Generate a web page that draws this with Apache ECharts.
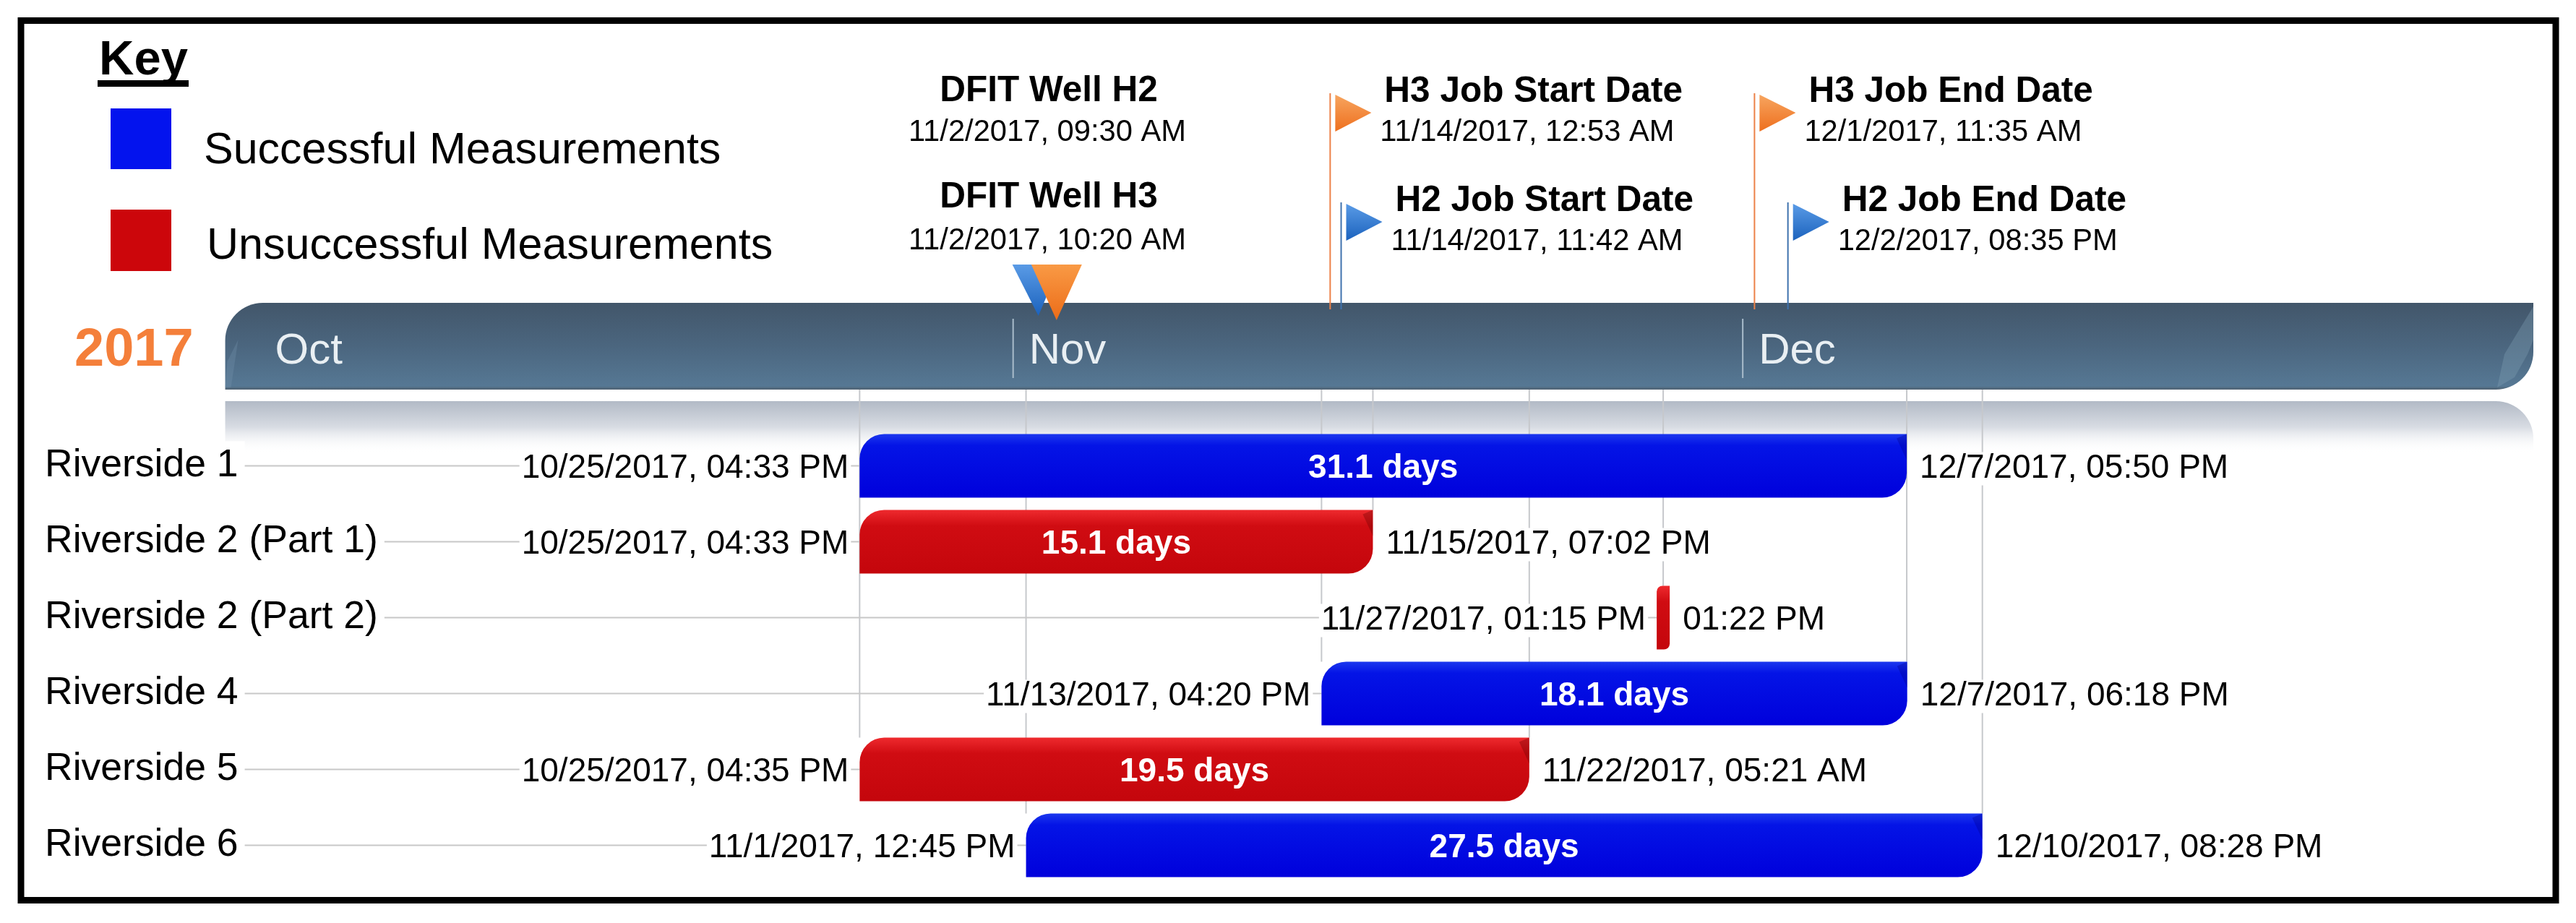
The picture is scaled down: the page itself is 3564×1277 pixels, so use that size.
<!DOCTYPE html>
<html>
<head>
<meta charset="utf-8">
<title>Riverside timeline</title>
<style>
	html, body { margin: 0; padding: 0; background: #fff; }
	#main { width: 3564px; height: 1277px; }
</style>
<script src="https://cdn.jsdelivr.net/npm/echarts@6/dist/echarts.min.js"></script>
</head>
<body>
<div id="main"></div>
<script>
var rowNames = ['Riverside 1', 'Riverside 2 (Part 1)', 'Riverside 2 (Part 2)', 'Riverside 4', 'Riverside 5', 'Riverside 6'];
var barStarts = ['2017-10-25T16:33', '2017-10-25T16:33', '2017-11-27T13:15', '2017-11-13T16:20', '2017-10-25T16:35', '2017-11-01T12:45'];
var barEnds = ['2017-12-07T17:50', '2017-11-15T19:02', '2017-11-27T13:22', '2017-12-07T18:18', '2017-11-22T05:21', '2017-12-10T20:28'];
var startLabels = ['10/25/2017, 04:33 PM', '10/25/2017, 04:33 PM', '11/27/2017, 01:15 PM', '11/13/2017, 04:20 PM', '10/25/2017, 04:35 PM', '11/1/2017, 12:45 PM'];
var endLabels = ['12/7/2017, 05:50 PM', '11/15/2017, 07:02 PM', '01:22 PM', '12/7/2017, 06:18 PM', '11/22/2017, 05:21 AM', '12/10/2017, 08:28 PM'];
var durations = ['31.1 days', '15.1 days', '', '18.1 days', '19.5 days', '27.5 days'];
var successful = [1, 0, 0, 1, 0, 1];

// 竖向参考线：日期 + 画到第几行
var guideDates = ['2017-10-25T16:33', '2017-11-01T12:45', '2017-11-13T16:20', '2017-11-15T19:02', '2017-11-22T05:21', '2017-11-27T17:30', '2017-12-07T17:50', '2017-12-10T20:28'];
var guideLastRows = [4, 5, 3, 1, 4, 2, 3, 5];

var monthStarts = ['2017-10-01', '2017-11-01', '2017-12-01'];
var monthNames = ['Oct', 'Nov', 'Dec'];

var flagTitles = ['H3 Job Start Date', 'H2 Job Start Date', 'H3 Job End Date', 'H2 Job End Date'];
var flagDates = ['2017-11-14T00:53', '2017-11-14T11:42', '2017-12-01T11:35', '2017-12-02T20:35'];
var flagLabels = ['11/14/2017, 12:53 AM', '11/14/2017, 11:42 AM', '12/1/2017, 11:35 AM', '12/2/2017, 08:35 PM'];
var flagWells = ['H3', 'H2', 'H3', 'H2'];

var dfitTitles = ['DFIT Well H2', 'DFIT Well H3'];
var dfitDates = ['2017-11-02T09:30', '2017-11-02T10:20'];
var dfitLabels = ['11/2/2017, 09:30 AM', '11/2/2017, 10:20 AM'];
var dfitWells = ['H2', 'H3'];

var legendNames = ['Successful Measurements', 'Unsuccessful Measurements'];

var axisMin = '2017-09-22T04:30';
var axisMax = '2018-01-02T12:10';
var bannerStart = '2017-09-29T14:30';

var FONT = '"Liberation Sans", Arial, sans-serif';

function ms(s) {
	return new Date(s + (s.length == 10 ? 'T00:00' : '')).getTime();
}

function grad(stops) {
	var list = [];
	for (var i = 0; i < stops.length; i++) {
		list.push({ offset: stops[i][0], color: stops[i][1] });
	}
	return new echarts.graphic.LinearGradient(0, 0, 0, 1, list);
}

function label(x, y, text, size, bold, align, color, bg) {
	return {
		type: 'text',
		style: {
			x: x,
			y: y + 4,
			text: text,
			fill: color || '#000',
			font: (bold ? 'bold ' : '') + size + 'px ' + FONT,
			align: align,
			verticalAlign: 'middle',
			backgroundColor: bg ? '#fff' : null,
			padding: bg ? [0, 3, 0, 3] : 0
		}
	};
}

/*顶部横幅和倒影*/
function renderBanner(params, api) {
	var x0 = api.coord([api.value(0), 0])[0];
	var x1 = api.coord([api.value(1), 0])[0];
	var w = x1 - x0;
	return {
		type: 'group',
		children: [{
			type: 'rect',
			shape: { x: x0, y: 555, width: w, height: 72, r: [0, 52, 0, 0] },
			style: { fill: grad([[0, '#b2bac6'], [0.5, '#d8dce3'], [1, 'rgba(255,255,255,0)']]) }
		}, {
			type: 'rect',
			shape: { x: x0, y: 419, width: w, height: 120, r: [52, 0, 52, 0] },
			style: { fill: grad([[0, '#42566a'], [0.5, '#4b667f'], [0.96, '#567894'], [1, '#4f6070']]) }
		}, {
			type: 'polygon',
			shape: { points: [[x0, 536], [x0 + 3, 500], [x0 + 18, 470], [x0 + 8, 536]] },
			style: { fill: 'rgba(120,150,175,0.3)' }
		}, {
			type: 'polygon',
			shape: { points: [[x1, 424], [x1 - 40, 490], [x1 - 50, 536], [x1 - 26, 522], [x1 - 8, 490], [x1, 470]] },
			style: { fill: 'rgba(130,160,180,0.35)' }
		}]
	};
}

/*月份分隔线*/
function renderMonth(params, api) {
	var x = api.coord([api.value(0), 0])[0];
	return {
		type: 'line',
		shape: { x1: x, y1: 441, x2: x, y2: 523 },
		style: { stroke: '#a9bccb', lineWidth: 2 }
	};
}

/*竖向参考线*/
function renderGuide(params, api) {
	var p = api.coord([api.value(0), api.value(1)]);
	return {
		type: 'line',
		shape: { x1: p[0], y1: 539, x2: p[0], y2: p[1] - 44 },
		style: { stroke: '#c6c8cc', lineWidth: 2 }
	};
}

/*每行：引线、条、日期文字*/
function renderRow(params, api) {
	var row = api.value(0);
	var i = params.dataIndex;
	var a = api.coord([api.value(1), row]);
	var b = api.coord([api.value(2), row]);
	var left = api.coord([ms(axisMin), row])[0];
	var y = a[1] - 44;
	var h = 88;
	var x0 = a[0];
	var x1 = b[0];
	var r = [34, 0, 34, 0];
	var thin = false;
	if (x1 - x0 < 18) {
		x0 = x0 - 3;
		x1 = x0 + 18;
		r = [8, 0, 8, 0];
		thin = true;
	}
	var fill = successful[i] ? grad([[0, '#1c38ee'], [0.18, '#0414e6'], [1, '#0000dc']]) : grad([[0, '#ee2a2e'], [0.25, '#d00c12'], [1, '#c4060c']]);
	var bevel = successful[i] ? 'rgba(0,0,150,0.35)' : 'rgba(110,0,0,0.35)';
	var children = [{
		type: 'line',
		shape: { x1: left, y1: a[1], x2: x0, y2: a[1] },
		style: { stroke: '#c8c8c8', lineWidth: 2 }
	}, {
		type: 'rect',
		shape: { x: x0, y: y, width: x1 - x0, height: h, r: r },
		style: { fill: fill }
	}];
	if (!thin) {
		children.push({
			type: 'polygon',
			shape: { points: [[x1 - 14, y + 6], [x1, y], [x1, y + 36]] },
			style: { fill: bevel }
		});
		children.push(label((x0 + x1) / 2, a[1], durations[i], 46, true, 'center', '#fff'));
	}
	children.push(label(x0 - 12, a[1], startLabels[i], 46, false, 'right', '#000', true));
	children.push(label(x1 + 15, a[1], endLabels[i], 46, false, 'left', '#000', true));
	return { type: 'group', children: children };
}

/*旗子：上排 H3 下排 H2*/
function renderFlag(params, api) {
	var i = params.dataIndex;
	var x = api.coord([api.value(0), 0])[0];
	var isH3 = flagWells[i] == 'H3';
	var top = isH3 ? 129 : 280;
	var stem = isH3 ? '#ec8148' : '#3f72ad';
	var fill = isH3 ? grad([[0, '#f7a55f'], [1, '#ee6f1e']]) : grad([[0, '#5a9be6'], [1, '#1b62bd']]);
	return {
		type: 'group',
		children: [{
			type: 'line',
			shape: { x1: x, y1: top, x2: x, y2: 428 },
			style: { stroke: stem, lineWidth: 2 }
		}, {
			type: 'polygon',
			shape: { points: [[x + 7, top + 2], [x + 57, top + 27], [x + 7, top + 53]] },
			style: { fill: fill }
		},
		label(x + 75, top - 6, flagTitles[i], 49.5, true, 'left'),
		label(x + 69, top + 51, flagLabels[i], 41.7, false, 'left')]
	};
}

/*DFIT 倒三角*/
function renderDfit(params, api) {
	var i = params.dataIndex;
	var x = api.coord([api.value(0), 0])[0];
	var isH3 = dfitWells[i] == 'H3';
	var tip = x + (isH3 ? 12 : -12);
	var half = isH3 ? 35 : 30;
	return {
		type: 'group',
		children: [{
			type: 'polygon',
			z2: isH3 ? 2 : 1,
			shape: { points: [[tip - half - (isH3 ? 0 : 6), 366], [tip + half, 366], [tip, isH3 ? 443 : 437]] },
			style: { fill: isH3 ? grad([[0, '#f99a45'], [1, '#ec6c18']]) : grad([[0, '#5a9be6'], [1, '#1b62bd']]) }
		},
		label(1451, isH3 ? 269 : 122, dfitTitles[i], 49.5, true, 'center'),
		label(1449, isH3 ? 330 : 180, dfitLabels[i], 41.7, false, 'center')]
	};
}

var rowData = [];
for (var i = 0; i < rowNames.length; i++) {
	rowData.push([i, ms(barStarts[i]), ms(barEnds[i])]);
}
var guideData = [];
for (var j = 0; j < guideDates.length; j++) {
	guideData.push([ms(guideDates[j]), guideLastRows[j]]);
}

var chart = echarts.init(document.getElementById('main'));
chart.setOption({
	animation: false,
	backgroundColor: '#fff',
	textStyle: { fontFamily: FONT },
	grid: [
		{ left: 62, width: 3443, top: 592, height: 630 },
		{ left: 62, width: 3443, top: 419, height: 120 }
	],
	xAxis: [{
		type: 'time',
		gridIndex: 0,
		min: ms(axisMin),
		max: ms(axisMax),
		show: false
	}, {
		// time 轴的 customValues 会报错，这里用 value 轴放月份
		type: 'value',
		gridIndex: 1,
		min: ms(axisMin),
		max: ms(axisMax),
		z: 8,
		axisLine: { show: false },
		axisTick: { show: false },
		splitLine: { show: false },
		axisLabel: {
			inside: true,
			margin: 23,
			color: '#e9eff3',
			fontSize: 60,
			fontFamily: FONT,
			align: 'left',
			padding: [0, 0, 0, 22],
			hideOverlap: false,
			customValues: monthStarts.map(ms),
			formatter: function(v) {
				return monthNames[new Date(v).getMonth() - 9];
			}
		}
	}],
	yAxis: [{
		type: 'category',
		gridIndex: 0,
		inverse: true,
		data: rowNames,
		z: 9,
		axisLine: { show: false },
		axisTick: { show: false },
		splitLine: { show: false },
		axisLabel: {
			inside: true,
			margin: 0,
			align: 'left',
			color: '#000',
			fontSize: 53.5,
			fontFamily: FONT,
			backgroundColor: '#fff',
			padding: [14, 9, 0, 0]
		}
	}, {
		type: 'value',
		gridIndex: 1,
		show: false
	}],
	series: [{
		type: 'custom',
		name: 'banner',
		xAxisIndex: 0,
		yAxisIndex: 0,
		z: 1,
		silent: true,
		renderItem: renderBanner,
		encode: { x: [0, 1] },
		data: [[ms(bannerStart), ms(axisMax)]]
	}, {
		type: 'custom',
		name: 'months',
		xAxisIndex: 0,
		yAxisIndex: 0,
		z: 2,
		silent: true,
		renderItem: renderMonth,
		encode: { x: 0 },
		data: [[ms(monthStarts[1])], [ms(monthStarts[2])]]
	}, {
		type: 'custom',
		name: 'guides',
		xAxisIndex: 0,
		yAxisIndex: 0,
		z: 2,
		silent: true,
		renderItem: renderGuide,
		encode: { x: 0, y: 1 },
		data: guideData
	}, {
		type: 'custom',
		name: 'rows',
		xAxisIndex: 0,
		yAxisIndex: 0,
		z: 4,
		silent: true,
		renderItem: renderRow,
		encode: { x: [1, 2], y: 0 },
		data: rowData
	}, {
		type: 'custom',
		name: 'flags',
		xAxisIndex: 0,
		yAxisIndex: 0,
		z: 5,
		silent: true,
		renderItem: renderFlag,
		encode: { x: 0 },
		data: flagDates.map(function(d) { return [ms(d)]; })
	}, {
		type: 'custom',
		name: 'dfit',
		xAxisIndex: 0,
		yAxisIndex: 0,
		z: 6,
		silent: true,
		renderItem: renderDfit,
		encode: { x: 0 },
		data: dfitDates.map(function(d) { return [ms(d)]; })
	}],
	graphic: [{
		type: 'rect',
		shape: { x: 29, y: 28.5, width: 3507, height: 1217 },
		style: { fill: 'none', stroke: '#000', lineWidth: 9 },
		silent: true
	}, {
		type: 'text',
		x: 137,
		y: 85,
		style: { text: 'Key', fill: '#000', fontSize: 67, fontWeight: 'bold', fontFamily: FONT, verticalAlign: 'middle' }
	}, {
		type: 'rect',
		shape: { x: 135, y: 111, width: 126, height: 9 },
		style: { fill: '#000' }
	}, {
		type: 'rect',
		shape: { x: 153, y: 150, width: 84, height: 84 },
		style: { fill: '#0313ee' }
	}, {
		type: 'rect',
		shape: { x: 153, y: 290, width: 84, height: 85 },
		style: { fill: '#cc060b' }
	}, {
		type: 'text',
		x: 282,
		y: 209,
		style: { text: legendNames[0], fill: '#000', fontSize: 61, fontFamily: FONT, verticalAlign: 'middle' }
	}, {
		type: 'text',
		x: 286,
		y: 341,
		style: { text: legendNames[1], fill: '#000', fontSize: 61, fontFamily: FONT, verticalAlign: 'middle' }
	}, {
		type: 'text',
		x: 103,
		y: 486,
		style: { text: '2017', fill: '#f47f3a', fontSize: 74, fontWeight: 'bold', fontFamily: FONT, verticalAlign: 'middle' }
	}]
});
</script>
</body>
</html>
